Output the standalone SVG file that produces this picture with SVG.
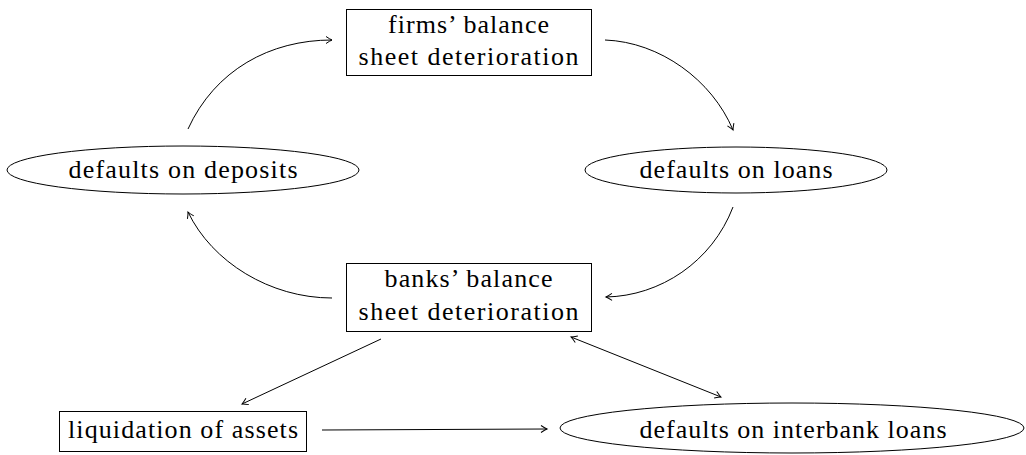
<svg xmlns="http://www.w3.org/2000/svg" width="1026" height="455" viewBox="0 0 1026 455">
<style>
.node{fill:#fff;stroke:#000;stroke-width:1}
text{font-family:'Liberation Serif','Times New Roman',serif;font-size:26px;font-weight:normal;fill:#000;text-anchor:middle}
.edge{fill:none;stroke:#000;stroke-width:1}
</style>
<defs>
<marker id="arr" viewBox="-8 -5 10 10" refX="0" refY="0" markerWidth="10" markerHeight="10" markerUnits="userSpaceOnUse" orient="auto-start-reverse">
<path d="M-6,-3.5 Q-2,-0.8 0,0 Q-2,0.8 -6,3.5" fill="none" stroke="#000" stroke-width="1"/>
</marker>
</defs>
<rect width="1026" height="455" fill="#fff"/>
<g id="firms">
<rect class="node" x="346.5" y="9.5" width="245" height="66"/>
<text x="468.5" y="33" textLength="161">firms’ balance</text>
<text x="468.5" y="65" textLength="220">sheet deterioration</text>
</g>
<g id="deposits">
<ellipse class="node" cx="183" cy="170" rx="176" ry="24"/>
<text x="183" y="178" textLength="229">defaults on deposits</text>
</g>
<g id="loans">
<ellipse class="node" cx="736" cy="170" rx="151" ry="23"/>
<text x="736" y="178" textLength="193">defaults on loans</text>
</g>
<g id="banks">
<rect class="node" x="346.5" y="263.5" width="245" height="68"/>
<text x="468.5" y="287" textLength="168">banks’ balance</text>
<text x="468.5" y="320" textLength="220">sheet deterioration</text>
</g>
<g id="liquidation">
<rect class="node" x="59.5" y="411.5" width="247" height="40"/>
<text x="183" y="438" textLength="230">liquidation of assets</text>
</g>
<g id="interbank">
<ellipse class="node" cx="792" cy="428" rx="232" ry="25"/>
<text x="793" y="438" textLength="307">defaults on interbank loans</text>
</g>
<g id="connectors">
<path class="edge" d="M188,129 C215,70 270,40 332,40" marker-end="url(#arr)"/>
<path class="edge" d="M605,40 C660,42 712,80 733,130" marker-end="url(#arr)"/>
<path class="edge" d="M733,207 C712,262 660,296 606,297" marker-end="url(#arr)"/>
<path class="edge" d="M332,298 C270,298 212,262 188,212" marker-end="url(#arr)"/>
<path class="edge" d="M381,339 L242,404" marker-end="url(#arr)"/>
<path class="edge" d="M571,337 L721,397" marker-start="url(#arr)" marker-end="url(#arr)"/>
<path class="edge" d="M322,430 L547,429" marker-end="url(#arr)"/>
</g>
</svg>
